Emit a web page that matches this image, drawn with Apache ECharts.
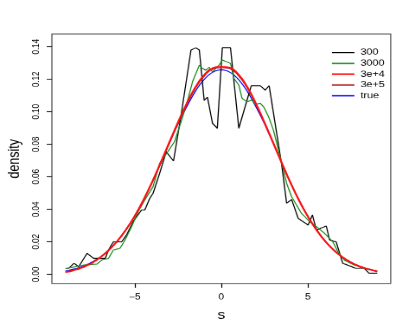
<!DOCTYPE html>
<html>
<head>
<meta charset="utf-8">
<script src="https://cdn.jsdelivr.net/npm/echarts@6/dist/echarts.min.js"></script>
<style>
html,body{margin:0;padding:0;background:#fff;overflow:hidden;}
#wrap{width:415px;height:332px;overflow:hidden;position:relative;}
#chart{width:480px;height:480px;transform:scale(0.86458,0.69167);transform-origin:0 0;position:absolute;left:0;top:0;}
</style>
</head>
<body>
<div id="wrap"><div id="chart"></div></div>
<script>
// ---- data ----
const seriesNames = ['300', '3000', '3e+4', '3e+5', 'true'];

const xTicks = [-5, 0, 5];
const yTicks = [0, 0.02, 0.04, 0.06, 0.08, 0.10, 0.12, 0.14];

// n = 300 (black, jagged)
const x300 = [-8.99,-8.8,-8.51,-8.23,-7.75,-7.37,-6.7,-6.51,-6.23,-5.75,-5.47,-5.09,-4.61,-4.42,-4.13,-3.94,-3.56,-3.18,-2.76,-2.32,-1.75,-1.47,-1.27,-0.99,-0.8,-0.51,-0.23,0.06,0.53,1.01,1.73,2.25,2.53,2.76,3.49,3.77,4.06,4.44,5.01,5.26,5.49,6.06,6.25,6.63,7.01,7.77,8.25,8.53,9.0];
const y300 = [0.0037,0.0037,0.0068,0.0047,0.0129,0.0098,0.0098,0.015,0.02,0.02,0.0242,0.0324,0.0395,0.0395,0.0467,0.0498,0.0621,0.0754,0.0697,0.098,0.138,0.1394,0.138,0.107,0.109,0.093,0.0898,0.1394,0.1394,0.0898,0.116,0.116,0.1133,0.116,0.067,0.0437,0.046,0.0344,0.0303,0.0365,0.0272,0.0297,0.0211,0.02,0.0068,0.0037,0.0037,0.0006,0.0006];

// n = 3000 (green)
const x3000 = [-8.99,-8.5,-7.94,-7.18,-6.9,-6.51,-6.23,-5.85,-5.56,-5.18,-4.8,-4.42,-3.94,-3.56,-3.09,-2.7,-2.32,-1.94,-1.66,-1.27,-1.09,-0.9,-0.7,-0.51,-0.13,0.06,0.53,0.73,1.01,1.2,1.49,1.77,1.96,2.25,2.44,2.73,3.01,3.3,3.49,3.77,4.06,4.63,5.1,5.49,5.96,6.44,6.73,7.1,7.67,8.25,9.0];
const y3000 = [0.0037,0.0045,0.0057,0.0063,0.0088,0.0098,0.015,0.016,0.0211,0.0293,0.0385,0.0457,0.0539,0.0683,0.0754,0.0816,0.0939,0.1072,0.1185,0.1287,0.1267,0.1256,0.1273,0.1246,0.1287,0.1318,0.1298,0.1205,0.1164,0.1082,0.1062,0.1072,0.1045,0.1052,0.1031,0.0969,0.0887,0.0764,0.0683,0.056,0.0477,0.0375,0.0324,0.0293,0.0252,0.02,0.0139,0.0088,0.0057,0.0037,0.0016];

// smooth curves sampled every 0.5
const xGrid = [-9,-8.5,-8,-7.5,-7,-6.5,-6,-5.5,-5,-4.5,-4,-3.5,-3,-2.5,-2,-1.5,-1,-0.5,0,0.5,1,1.5,2,2.5,3,3.5,4,4.5,5,5.5,6,6.5,7,7.5,8,8.5,9];
const y3e4 = [0.0012,0.0025,0.0043,0.0068,0.0103,0.0148,0.0205,0.0275,0.0358,0.0456,0.0566,0.0687,0.0812,0.0935,0.1050,0.1150,0.1225,0.1268,0.1277,0.1270,0.1228,0.1152,0.1050,0.0932,0.0808,0.0683,0.0562,0.0452,0.0355,0.0272,0.0203,0.0148,0.0105,0.0072,0.0048,0.0031,0.0019];
const y3e5 = [0.0015,0.0028,0.0046,0.0070,0.0104,0.0148,0.0205,0.0275,0.0357,0.0455,0.0565,0.0685,0.0809,0.0930,0.1044,0.1143,0.1217,0.1262,0.1271,0.1264,0.1220,0.1145,0.1045,0.0929,0.0806,0.0682,0.0562,0.0453,0.0356,0.0273,0.0204,0.0148,0.0105,0.0073,0.0049,0.0032,0.0020];
const yTrue = [0.0021,0.0033,0.0049,0.0073,0.0106,0.0149,0.0205,0.0274,0.0357,0.0455,0.0564,0.0682,0.0805,0.0925,0.1030,0.1125,0.1197,0.1243,0.1258,0.1243,0.1197,0.1125,0.1030,0.0925,0.0805,0.0682,0.0564,0.0455,0.0357,0.0274,0.0205,0.0149,0.0106,0.0073,0.0049,0.0033,0.0021];

const pairs = (xs, ys) => xs.map((x, i) => [x, ys[i]]);
const FONT = 'Liberation Sans, Arial, Helvetica, sans-serif';

const chart = echarts.init(document.getElementById('chart'), null, {renderer: 'canvas'});
chart.setOption({
  animation: false,
  backgroundColor: '#fff',
  textStyle: {fontFamily: FONT},
  grid: {left: 55.5, right: 28.1, top: 49.2, bottom: 70.1, show: true, borderColor: '#444', borderWidth: 1.2, containLabel: false},
  legend: {
    orient: 'vertical', left: 377.9, top: 64.5,
    itemWidth: 26, itemHeight: 14, itemGap: 2.6,
    itemStyle: {opacity: 0},
    textStyle: {fontSize: 12.5, color: '#000', fontFamily: FONT, padding: [0, 0, 0, 2]},
    data: seriesNames
  },
  xAxis: {
    type: 'value', min: -9.78, max: 9.78,
    name: 's', nameLocation: 'middle', nameGap: 37,
    nameTextStyle: {fontSize: 18, color: '#000', fontFamily: FONT},
    axisLine: {show: false, onZero: false},
    axisTick: {show: true, length: 6, customValues: xTicks, lineStyle: {color: '#000', width: 1.2}},
    axisLabel: {customValues: xTicks, fontSize: 12, color: '#000', margin: 14, fontFamily: FONT,
      formatter: v => String(v).replace('-', '\u2212')},
    splitLine: {show: false}
  },
  yAxis: {
    type: 'value', min: -0.00568, max: 0.1478,
    name: 'density', nameLocation: 'middle', nameGap: 34, nameRotate: 90,
    nameTextStyle: {fontSize: 18, color: '#000', fontFamily: FONT},
    axisLine: {show: false, onZero: false},
    axisTick: {show: true, length: 6, customValues: yTicks, lineStyle: {color: '#000', width: 1.2}},
    axisLabel: {customValues: yTicks, fontSize: 11.5, color: '#000', margin: 12, rotate: 90, fontFamily: FONT,
      formatter: v => v.toFixed(2)},
    splitLine: {show: false}
  },
  series: [
    {name: 'true', type: 'line', data: pairs(xGrid, yTrue), smooth: true, symbol: 'none', lineStyle: {color: '#0000ff', width: 1.3}, itemStyle: {color: '#0000ff'}, z: 2},
    {name: '300', type: 'line', data: pairs(x300, y300), symbol: 'none', lineStyle: {color: '#000', width: 1.3}, itemStyle: {color: '#000'}, z: 3},
    {name: '3000', type: 'line', data: pairs(x3000, y3000), symbol: 'none', lineStyle: {color: '#1a8a1a', width: 1.3}, itemStyle: {color: '#1a8a1a'}, z: 4},
    {name: '3e+5', type: 'line', data: pairs(xGrid, y3e5), smooth: true, symbol: 'none', lineStyle: {color: '#b02020', width: 1.3}, itemStyle: {color: '#b02020'}, z: 5},
    {name: '3e+4', type: 'line', data: pairs(xGrid, y3e4), smooth: true, symbol: 'none', lineStyle: {color: '#ff1010', width: 2.2}, itemStyle: {color: '#ff1010'}, z: 6}
  ]
});
</script>
</body>
</html>
